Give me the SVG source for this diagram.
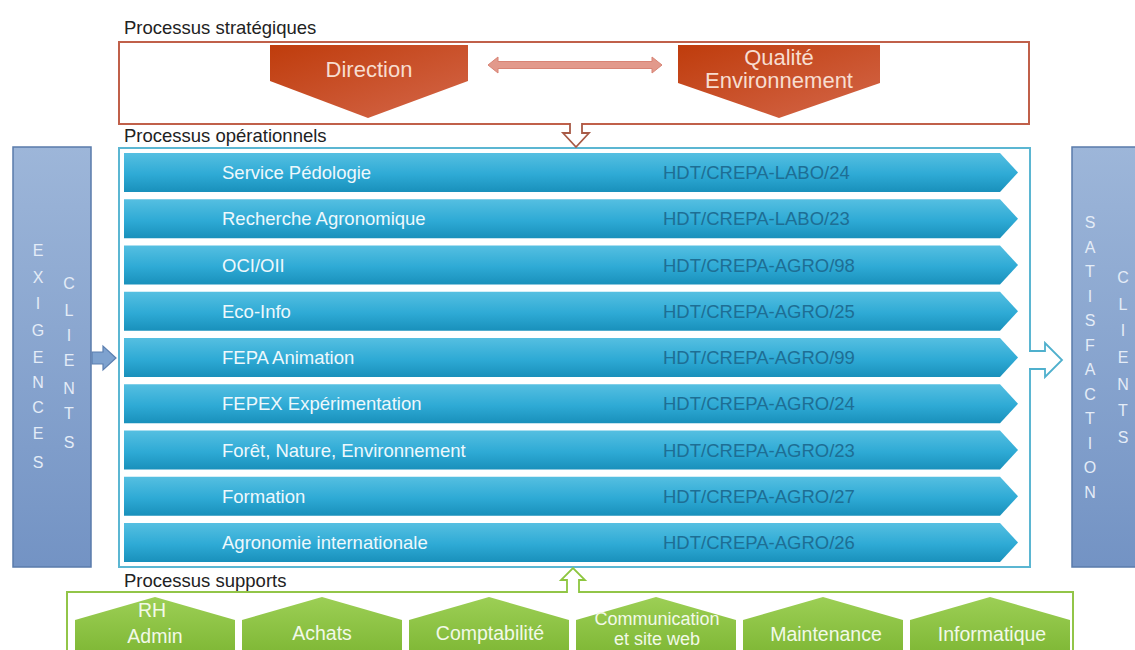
<svg xmlns="http://www.w3.org/2000/svg" width="1135" height="650" viewBox="0 0 1135 650">
  <defs>
    <linearGradient id="gBar" x1="0" y1="0" x2="0" y2="1">
      <stop offset="0" stop-color="#55bfe1"/>
      <stop offset="0.55" stop-color="#2eaad5"/>
      <stop offset="1" stop-color="#1990bb"/>
    </linearGradient>
    <linearGradient id="gRed" x1="0" y1="0" x2="1" y2="1">
      <stop offset="0" stop-color="#bf3c0c"/>
      <stop offset="1" stop-color="#d4674a"/>
    </linearGradient>
    <linearGradient id="gSide" x1="0" y1="0" x2="0" y2="1">
      <stop offset="0" stop-color="#9db6d9"/>
      <stop offset="1" stop-color="#7393c4"/>
    </linearGradient>
    <linearGradient id="gGreen" x1="0" y1="0" x2="0" y2="1">
      <stop offset="0" stop-color="#9ccf55"/>
      <stop offset="1" stop-color="#7cb532"/>
    </linearGradient>
    <style>
      text { font-family: "Liberation Sans", Arial, sans-serif; }
      .title { font-size: 18.5px; fill: #222; }
      .bar { fill: url(#gBar); }
      .lname { font-size: 18.5px; fill: #eef8fc; }
      .lcode { font-size: 18.5px; fill: #1e6e94; }
      .red { fill: url(#gRed); }
      .redtxt { font-size: 22px; fill: #f7ddd0; text-anchor: middle; }
      .side { fill: url(#gSide); stroke: #5a7bab; stroke-width: 1.5; }
      .letter { font-size: 16px; fill: #e4ecf7; text-anchor: middle; }
      .hex { fill: url(#gGreen); }
      .gtxt { font-size: 19.5px; fill: #f2f9e8; text-anchor: middle; }
      .gsmall { font-size: 18px; }
    </style>
  </defs>

  <rect width="1135" height="650" fill="#ffffff"/>

  <!-- strategic processes -->
  <g id="strategique">
    <text class="title" x="124" y="34">Processus stratégiques</text>
    <rect x="119" y="42" width="910" height="82" fill="none" stroke="#c0604a" stroke-width="2"/>
  </g>
  <g id="direction">
    <path class="red" d="M270,45 H468 V81 L368,118 L270,81 Z"/>
    <text class="redtxt" x="369" y="77">Direction</text>
  </g>
  <g id="qualite">
    <path class="red" d="M678,45 H880 V83 L779,118 L678,83 Z"/>
    <text class="redtxt" x="779" y="65">Qualité</text>
    <text class="redtxt" x="779" y="88">Environnement</text>
  </g>

  <!-- operational processes -->
  <g id="operationnel">
    <text class="title" x="124" y="142">Processus opérationnels</text>
    <rect x="119" y="148" width="911" height="419" fill="none" stroke="#5bb6d2" stroke-width="2"/>
  </g>

  <g id="p1">
    <path class="bar" d="M124,153 H1000 L1018,172.5 L1000,192 H124 Z"/>
    <text class="lname" x="222" y="179">Service Pédologie</text>
    <text class="lcode" x="663" y="179">HDT/CREPA-LABO/24</text>
  </g>
  <g id="p2">
    <path class="bar" d="M124,199.25 H1000 L1018,218.75 L1000,238.25 H124 Z"/>
    <text class="lname" x="222" y="225.25">Recherche Agronomique</text>
    <text class="lcode" x="663" y="225.25">HDT/CREPA-LABO/23</text>
  </g>
  <g id="p3">
    <path class="bar" d="M124,245.5 H1000 L1018,265 L1000,284.5 H124 Z"/>
    <text class="lname" x="222" y="271.5">OCI/OII</text>
    <text class="lcode" x="663" y="271.5">HDT/CREPA-AGRO/98</text>
  </g>
  <g id="p4">
    <path class="bar" d="M124,291.75 H1000 L1018,311.25 L1000,330.75 H124 Z"/>
    <text class="lname" x="222" y="317.75">Eco-Info</text>
    <text class="lcode" x="663" y="317.75">HDT/CREPA-AGRO/25</text>
  </g>
  <g id="p5">
    <path class="bar" d="M124,338 H1000 L1018,357.5 L1000,377 H124 Z"/>
    <text class="lname" x="222" y="364">FEPA Animation</text>
    <text class="lcode" x="663" y="364">HDT/CREPA-AGRO/99</text>
  </g>
  <g id="p6">
    <path class="bar" d="M124,384.25 H1000 L1018,403.75 L1000,423.25 H124 Z"/>
    <text class="lname" x="222" y="410.25">FEPEX Expérimentation</text>
    <text class="lcode" x="663" y="410.25">HDT/CREPA-AGRO/24</text>
  </g>
  <g id="p7">
    <path class="bar" d="M124,430.5 H1000 L1018,450 L1000,469.5 H124 Z"/>
    <text class="lname" x="222" y="456.5">Forêt, Nature, Environnement</text>
    <text class="lcode" x="663" y="456.5">HDT/CREPA-AGRO/23</text>
  </g>
  <g id="p8">
    <path class="bar" d="M124,476.75 H1000 L1018,496.25 L1000,515.75 H124 Z"/>
    <text class="lname" x="222" y="502.75">Formation</text>
    <text class="lcode" x="663" y="502.75">HDT/CREPA-AGRO/27</text>
  </g>
  <g id="p9">
    <path class="bar" d="M124,523 H1000 L1018,542.5 L1000,562 H124 Z"/>
    <text class="lname" x="222" y="549">Agronomie internationale</text>
    <text class="lcode" x="663" y="549">HDT/CREPA-AGRO/26</text>
  </g>

  <!-- customer requirements -->
  <g id="exigences">
    <rect class="side" x="13" y="147" width="78" height="420"/>
    <text class="letter" x="38" y="256">E</text>
    <text class="letter" x="38" y="283">X</text>
    <text class="letter" x="38" y="309">I</text>
    <text class="letter" x="38" y="336">G</text>
    <text class="letter" x="38" y="363">E</text>
    <text class="letter" x="38" y="388">N</text>
    <text class="letter" x="38" y="413">C</text>
    <text class="letter" x="38" y="439">E</text>
    <text class="letter" x="38" y="468">S</text>
    <text class="letter" x="69" y="289">C</text>
    <text class="letter" x="69" y="316">L</text>
    <text class="letter" x="69" y="341">I</text>
    <text class="letter" x="69" y="366">E</text>
    <text class="letter" x="69" y="394">N</text>
    <text class="letter" x="69" y="419">T</text>
    <text class="letter" x="69" y="448">S</text>
  </g>

  <!-- customer satisfaction -->
  <g id="satisfaction">
    <rect class="side" x="1072" y="147" width="70" height="420"/>
    <text class="letter" x="1090" y="228">S</text>
    <text class="letter" x="1090" y="252.5">A</text>
    <text class="letter" x="1090" y="277">T</text>
    <text class="letter" x="1090" y="301.5">I</text>
    <text class="letter" x="1090" y="326">S</text>
    <text class="letter" x="1090" y="350.5">F</text>
    <text class="letter" x="1090" y="375">A</text>
    <text class="letter" x="1090" y="399.5">C</text>
    <text class="letter" x="1090" y="424">T</text>
    <text class="letter" x="1090" y="448.5">I</text>
    <text class="letter" x="1090" y="473">O</text>
    <text class="letter" x="1090" y="498">N</text>
    <text class="letter" x="1123" y="283">C</text>
    <text class="letter" x="1123" y="310">L</text>
    <text class="letter" x="1123" y="336">I</text>
    <text class="letter" x="1123" y="363">E</text>
    <text class="letter" x="1123" y="390">N</text>
    <text class="letter" x="1123" y="416">T</text>
    <text class="letter" x="1123" y="443">S</text>
  </g>

  <!-- support processes -->
  <g id="supports">
    <text class="title" x="124" y="587">Processus supports</text>
    <rect x="67" y="592" width="1006" height="70" fill="none" stroke="#92c548" stroke-width="2"/>
  </g>
  <g id="s-rh">
    <path class="hex" d="M75,620 L155,597 L235,620 V660 H75 Z"/>
    <text class="gtxt" x="152" y="617">RH</text>
    <text class="gtxt" x="155" y="643">Admin</text>
  </g>
  <g id="s-achats">
    <path class="hex" d="M242,620 L322,597 L402,620 V660 H242 Z"/>
    <text class="gtxt" x="322" y="640">Achats</text>
  </g>
  <g id="s-compta">
    <path class="hex" d="M409,620 L489,597 L569,620 V660 H409 Z"/>
    <text class="gtxt" x="490" y="640">Comptabilité</text>
  </g>
  <g id="s-comm">
    <path class="hex" d="M576,620 L656,597 L736,620 V660 H576 Z"/>
    <text class="gtxt gsmall" x="657" y="625">Communication</text>
    <text class="gtxt gsmall" x="657" y="645">et site web</text>
  </g>
  <g id="s-maint">
    <path class="hex" d="M743,620 L823,597 L903,620 V660 H743 Z"/>
    <text class="gtxt" x="826" y="641">Maintenance</text>
  </g>
  <g id="s-info">
    <path class="hex" d="M910,620 L990,597 L1070,620 V660 H910 Z"/>
    <text class="gtxt" x="992" y="641">Informatique</text>
  </g>

  <!-- connectors -->
  <g id="connectors">
    <path d="M488,65 L498,57 V61.5 H652 V57 L662,65 L652,73 V68.5 H498 V73 Z" fill="#e2998b" stroke="#d88374" stroke-width="1"/>
    <path d="M570,123 V133 H563 L576,147 L589,133 H582 V123" fill="#ffffff" stroke="#a85a46" stroke-width="1.8"/>
    <path d="M567,593 V580 H561 L573,568 L585,580 H579 V593" fill="#ffffff" stroke="#8dc63f" stroke-width="1.8"/>
    <path d="M92,352 H103 V346 L116,358 L103,370 V364 H92 Z" fill="#7ea2cf" stroke="#5b7fb0" stroke-width="1.2"/>
    <path d="M1029,351 H1045 V343 L1062,360 L1045,377 V369 H1029" fill="#ffffff" stroke="#4fb0cd" stroke-width="1.8"/>
  </g>
</svg>
